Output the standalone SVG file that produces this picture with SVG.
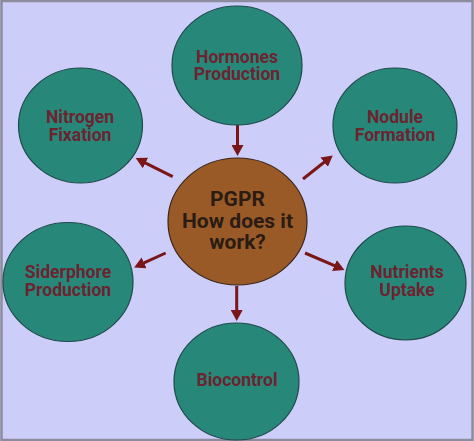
<svg xmlns="http://www.w3.org/2000/svg" width="474" height="441" viewBox="0 0 474 441">
<style>
.node{fill:#27887a;stroke:#1d4a4a;stroke-width:1.2}
.center{fill:#9a5a27;stroke:#3a2416;stroke-width:1.2}
.lbl{font-family:Roboto,"Liberation Sans",sans-serif;font-weight:700;font-size:17.5px;fill:#6b2430;text-anchor:middle}
.clbl{font-family:Roboto,"Liberation Sans",sans-serif;font-weight:700;font-size:21px;fill:#2a1c14;text-anchor:middle}
.conn line{stroke:#7a1618;stroke-width:3;marker-end:url(#ah)}
</style>
<defs>
<marker id="ah" markerUnits="userSpaceOnUse" markerWidth="12" markerHeight="12" refX="2" refY="6" orient="auto">
<path d="M0,0 L11,6 L0,12 z" fill="#7a1618"/>
</marker>
</defs>
<rect x="0" y="0" width="474" height="441" fill="#cdcdf9"/>
<rect x="1.5" y="1" width="471" height="439" fill="none" stroke="#8c8c9e" stroke-width="2.5"/>
<g id="connectors" class="conn">
<line x1="237.5" y1="125" x2="237.5" y2="147"/>
<line x1="172.7" y1="176.7" x2="143.7" y2="162.1"/>
<line x1="303" y1="179" x2="325.7" y2="161"/>
<line x1="165.7" y1="253" x2="142.3" y2="263.7"/>
<line x1="305" y1="253" x2="336.2" y2="266.4"/>
<line x1="236.7" y1="286" x2="236.7" y2="312"/>
</g>
<g id="hormones">
<ellipse class="node" cx="237" cy="65.5" rx="65" ry="59.5"/>
<text class="lbl" x="237" y="62.5">Hormones</text>
<text class="lbl" x="237" y="80">Production</text>
</g>
<g id="nitrogen">
<ellipse class="node" cx="80.5" cy="125.5" rx="62" ry="57.5"/>
<text class="lbl" x="80" y="123">Nitrogen</text>
<text class="lbl" x="80" y="140.5">Fixation</text>
</g>
<g id="nodule">
<ellipse class="node" cx="395" cy="125.5" rx="62" ry="57.5"/>
<text class="lbl" x="395" y="123">Nodule</text>
<text class="lbl" x="395" y="140.5">Formation</text>
</g>
<g id="pgpr">
<ellipse class="center" cx="237.5" cy="221.5" rx="69.5" ry="63.5"/>
<text class="clbl" x="237.5" y="206">PGPR</text>
<text class="clbl" x="237.5" y="228">How does it</text>
<text class="clbl" x="237.5" y="249">work?</text>
</g>
<g id="siderphore">
<ellipse class="node" cx="68" cy="282" rx="65" ry="59.5"/>
<text class="lbl" x="68" y="278">Siderphore</text>
<text class="lbl" x="68" y="295.5">Production</text>
</g>
<g id="nutrients">
<ellipse class="node" cx="405.5" cy="283" rx="60.5" ry="57"/>
<text class="lbl" x="407" y="278">Nutrients</text>
<text class="lbl" x="407" y="295.5">Uptake</text>
</g>
<g id="biocontrol">
<ellipse class="node" cx="236.5" cy="381.5" rx="62.5" ry="58.5"/>
<text class="lbl" x="237" y="385.5">Biocontrol</text>
</g>
</svg>
